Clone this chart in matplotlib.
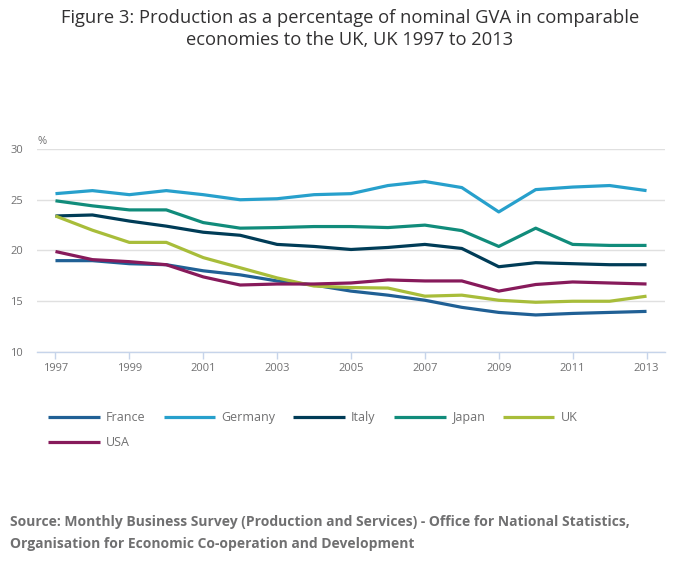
import numpy as np
import matplotlib.pyplot as plt

# --- data ---
years = list(range(1997, 2014))
france = [19.0, 19.0, 18.7, 18.6, 18.0, 17.6, 17.0, 16.6, 16.0, 15.6, 15.1, 14.4, 13.9, 13.65, 13.8, 13.9, 14.0]
germany = [25.6, 25.9, 25.5, 25.9, 25.5, 25.0, 25.1, 25.5, 25.6, 26.4, 26.8, 26.2, 23.8, 26.0, 26.25, 26.4, 25.9]
italy = [23.4, 23.5, 22.9, 22.4, 21.8, 21.5, 20.6, 20.4, 20.1, 20.3, 20.6, 20.2, 18.4, 18.8, 18.7, 18.6, 18.6]
japan = [24.9, 24.4, 24.0, 24.0, 22.75, 22.2, 22.26, 22.36, 22.36, 22.26, 22.5, 21.96, 20.4, 22.2, 20.6, 20.5, 20.5]
uk = [23.4, 22.0, 20.8, 20.8, 19.3, 18.3, 17.3, 16.5, 16.35, 16.3, 15.5, 15.6, 15.1, 14.9, 15.0, 15.0, 15.5]
usa = [19.9, 19.1, 18.9, 18.6, 17.4, 16.6, 16.7, 16.7, 16.8, 17.1, 17.0, 17.0, 16.0, 16.65, 16.9, 16.8, 16.7]

names = ["France", "Germany", "Italy", "Japan", "UK", "USA"]
series = [france, germany, italy, japan, uk, usa]
colors = ["#206095", "#27a0cc", "#003c57", "#118c7b", "#a8bd3a", "#871a5b"]

xticks = list(range(1997, 2014, 2))
yticks = [10, 15, 20, 25, 30]

plt.rcParams['font.family'] = ['Open Sans', 'DejaVu Sans']

fig = plt.figure(figsize=(7.0, 5.74), dpi=100)
ax = fig.add_axes([37/700, 1-352/574, (665-37)/700, (352-149)/574])

handles = {}
for name, vals, c in zip(names, series, colors):
    ln, = ax.plot(years, vals, color=c, linewidth=2.3, solid_capstyle='butt')
    handles[name] = ln

ax.set_xlim(1996.5, 2013.5)
ax.set_ylim(10, 30)
ax.set_xticks(xticks)
ax.set_yticks(yticks)
ax.tick_params(axis='x', colors='#c6d4ea', length=5, width=1, labelcolor='#707071', labelsize=8, pad=3)
ax.tick_params(axis='y', length=0, labelcolor='#707071', labelsize=8, pad=19.4)
for lab in ax.get_yticklabels():
    lab.set_horizontalalignment('left')
ax.grid(axis='y', color='#e0e0e0', linewidth=1)
ax.set_axisbelow(True)
for s in ['top', 'right', 'left']:
    ax.spines[s].set_visible(False)
ax.spines['bottom'].set_color('#c6d4ea')
ax.spines['bottom'].set_linewidth(1)

fig.text(38/700, 1-142/574, "%", fontsize=8, color='#707071', va='center', ha='left')

fig.text(0.5, 1-18/574, "Figure 3: Production as a percentage of nominal GVA in comparable",
         ha='center', va='center', fontsize=13.2, color='#323132')
fig.text(0.5, 1-40/574, "economies to the UK, UK 1997 to 2013",
         ha='center', va='center', fontsize=13.2, color='#323132')

# legend: order so row 1 is France..UK and row 2 USA
order = ["France", "USA", "Germany", "Italy", "Japan", "UK"]
leg = fig.legend([handles[n] for n in order], order, ncol=5, frameon=False,
                 loc='upper left', bbox_to_anchor=(48/700, 1-411/574),
                 borderaxespad=0, borderpad=0,
                 fontsize=9, handlelength=4.15, handletextpad=0.48,
                 columnspacing=1.44, labelspacing=0.95)
for t in leg.get_texts():
    t.set_color('#707071')

fig.text(10/700, 1-522/574, "Source: Monthly Business Survey (Production and Services) - Office for National Statistics,",
         ha='left', va='center', fontsize=10, fontweight='bold', color='#707071')
fig.text(10/700, 1-544/574, "Organisation for Economic Co-operation and Development",
         ha='left', va='center', fontsize=10, fontweight='bold', color='#707071')

fig.savefig("out.png", dpi=100)
